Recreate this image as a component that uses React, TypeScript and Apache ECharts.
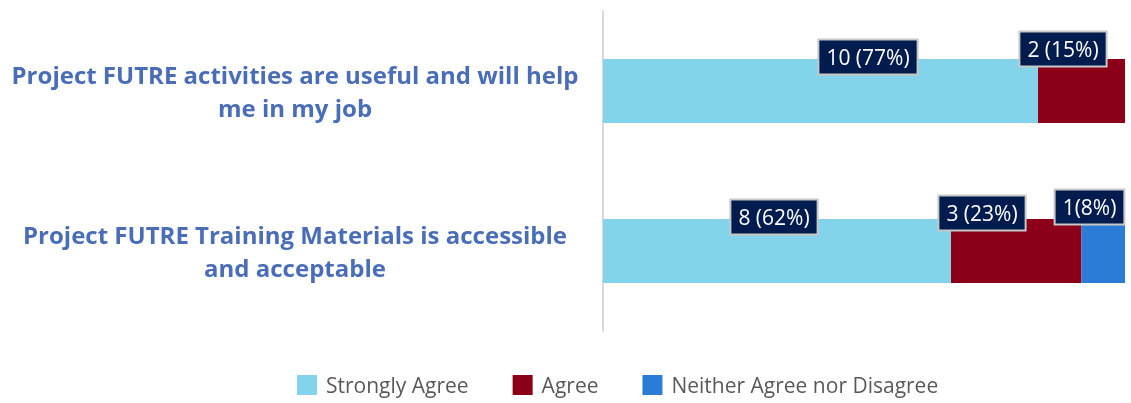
import React, { useEffect, useRef } from "react";
import * as echarts from "echarts";

const categories = [
  "Project FUTRE activities are useful and will help\nme in my job",
  "Project FUTRE Training Materials is accessible\nand acceptable",
];
const seriesNames = ["Strongly Agree", "Agree", "Neither Agree nor Disagree"];
const stronglyAgree = [10, 8];
const agree = [2, 3];
const neither: (number | null)[] = [null, 1];
const stronglyAgreeLabels = ["10 (77%)", "8 (62%)"];
const agreeLabels = ["2 (15%)", "3 (23%)"];
const neitherLabels = ["", "1(8%)"];

// label anchor offsets relative to each bar segment's top-left corner (style only)
const saOffsets = [[265, -2], [171, -2]];
const agOffsets = [[25, -10], [31, -6]];
const neOffsets = [[8, -12], [8, -12]];

const colors = ["#83D3EB", "#8B0018", "#2B7CD6"];
const FONT = "'Open Sans', 'Noto Sans', sans-serif";

const labelBase = {
  show: true,
  align: "center",
  verticalAlign: "middle",
  color: "#ffffff",
  fontFamily: FONT,
  fontSize: 21,
  backgroundColor: "#001B4D",
  borderColor: "#C8C8C8",
  borderWidth: 2,
  padding: [7, 7, 5, 7],
};

function buildData(values: (number | null)[], labels: string[], offsets: number[][]) {
  return values.map((v, i) =>
    v == null
      ? { value: null }
      : {
          value: v,
          label: { ...labelBase, position: offsets[i], formatter: labels[i] },
        }
  );
}

export default function App() {
  const ref = useRef<HTMLDivElement>(null);
  useEffect(() => {
    const chart = echarts.init(ref.current!, null, { renderer: "svg" });
    chart.setOption({
      animation: false,
      color: colors,
      grid: { left: 603, right: 6, top: 11, bottom: 72, containLabel: false },
      legend: {
        left: 292,
        top: 369,
        icon: "rect",
        itemWidth: 20,
        itemHeight: 20,
        itemGap: 44,
        textStyle: {
          fontFamily: FONT,
          fontSize: 21,
          lineHeight: 22,
          color: "#595959",
          padding: [0, 0, 0, 4],
        },
        data: seriesNames,
      },
      xAxis: {
        type: "value",
        min: 0,
        max: 12,
        show: false,
      },
      yAxis: {
        type: "category",
        inverse: true,
        data: categories,
        axisLine: { show: true, lineStyle: { color: "#D9D9D9", width: 2 } },
        axisTick: { show: false },
        axisLabel: {
          margin: 308,
          align: "center",
          fontFamily: FONT,
          fontWeight: "bold",
          fontSize: 24,
          lineHeight: 33,
          color: "#4A6DB8",
        },
      },
      series: [
        {
          name: seriesNames[0],
          type: "bar",
          stack: "total",
          barWidth: 64,
          data: buildData(stronglyAgree, stronglyAgreeLabels, saOffsets),
        },
        {
          name: seriesNames[1],
          type: "bar",
          stack: "total",
          barWidth: 64,
          data: buildData(agree, agreeLabels, agOffsets),
        },
        {
          name: seriesNames[2],
          type: "bar",
          stack: "total",
          barWidth: 64,
          data: buildData(neither, neitherLabels, neOffsets),
        },
      ],
    });
    return () => chart.dispose();
  }, []);
  return (
    <div
      ref={ref}
      style={{ position: "fixed", left: 0, top: 0, width: 1131, height: 403 }}
    />
  );
}
